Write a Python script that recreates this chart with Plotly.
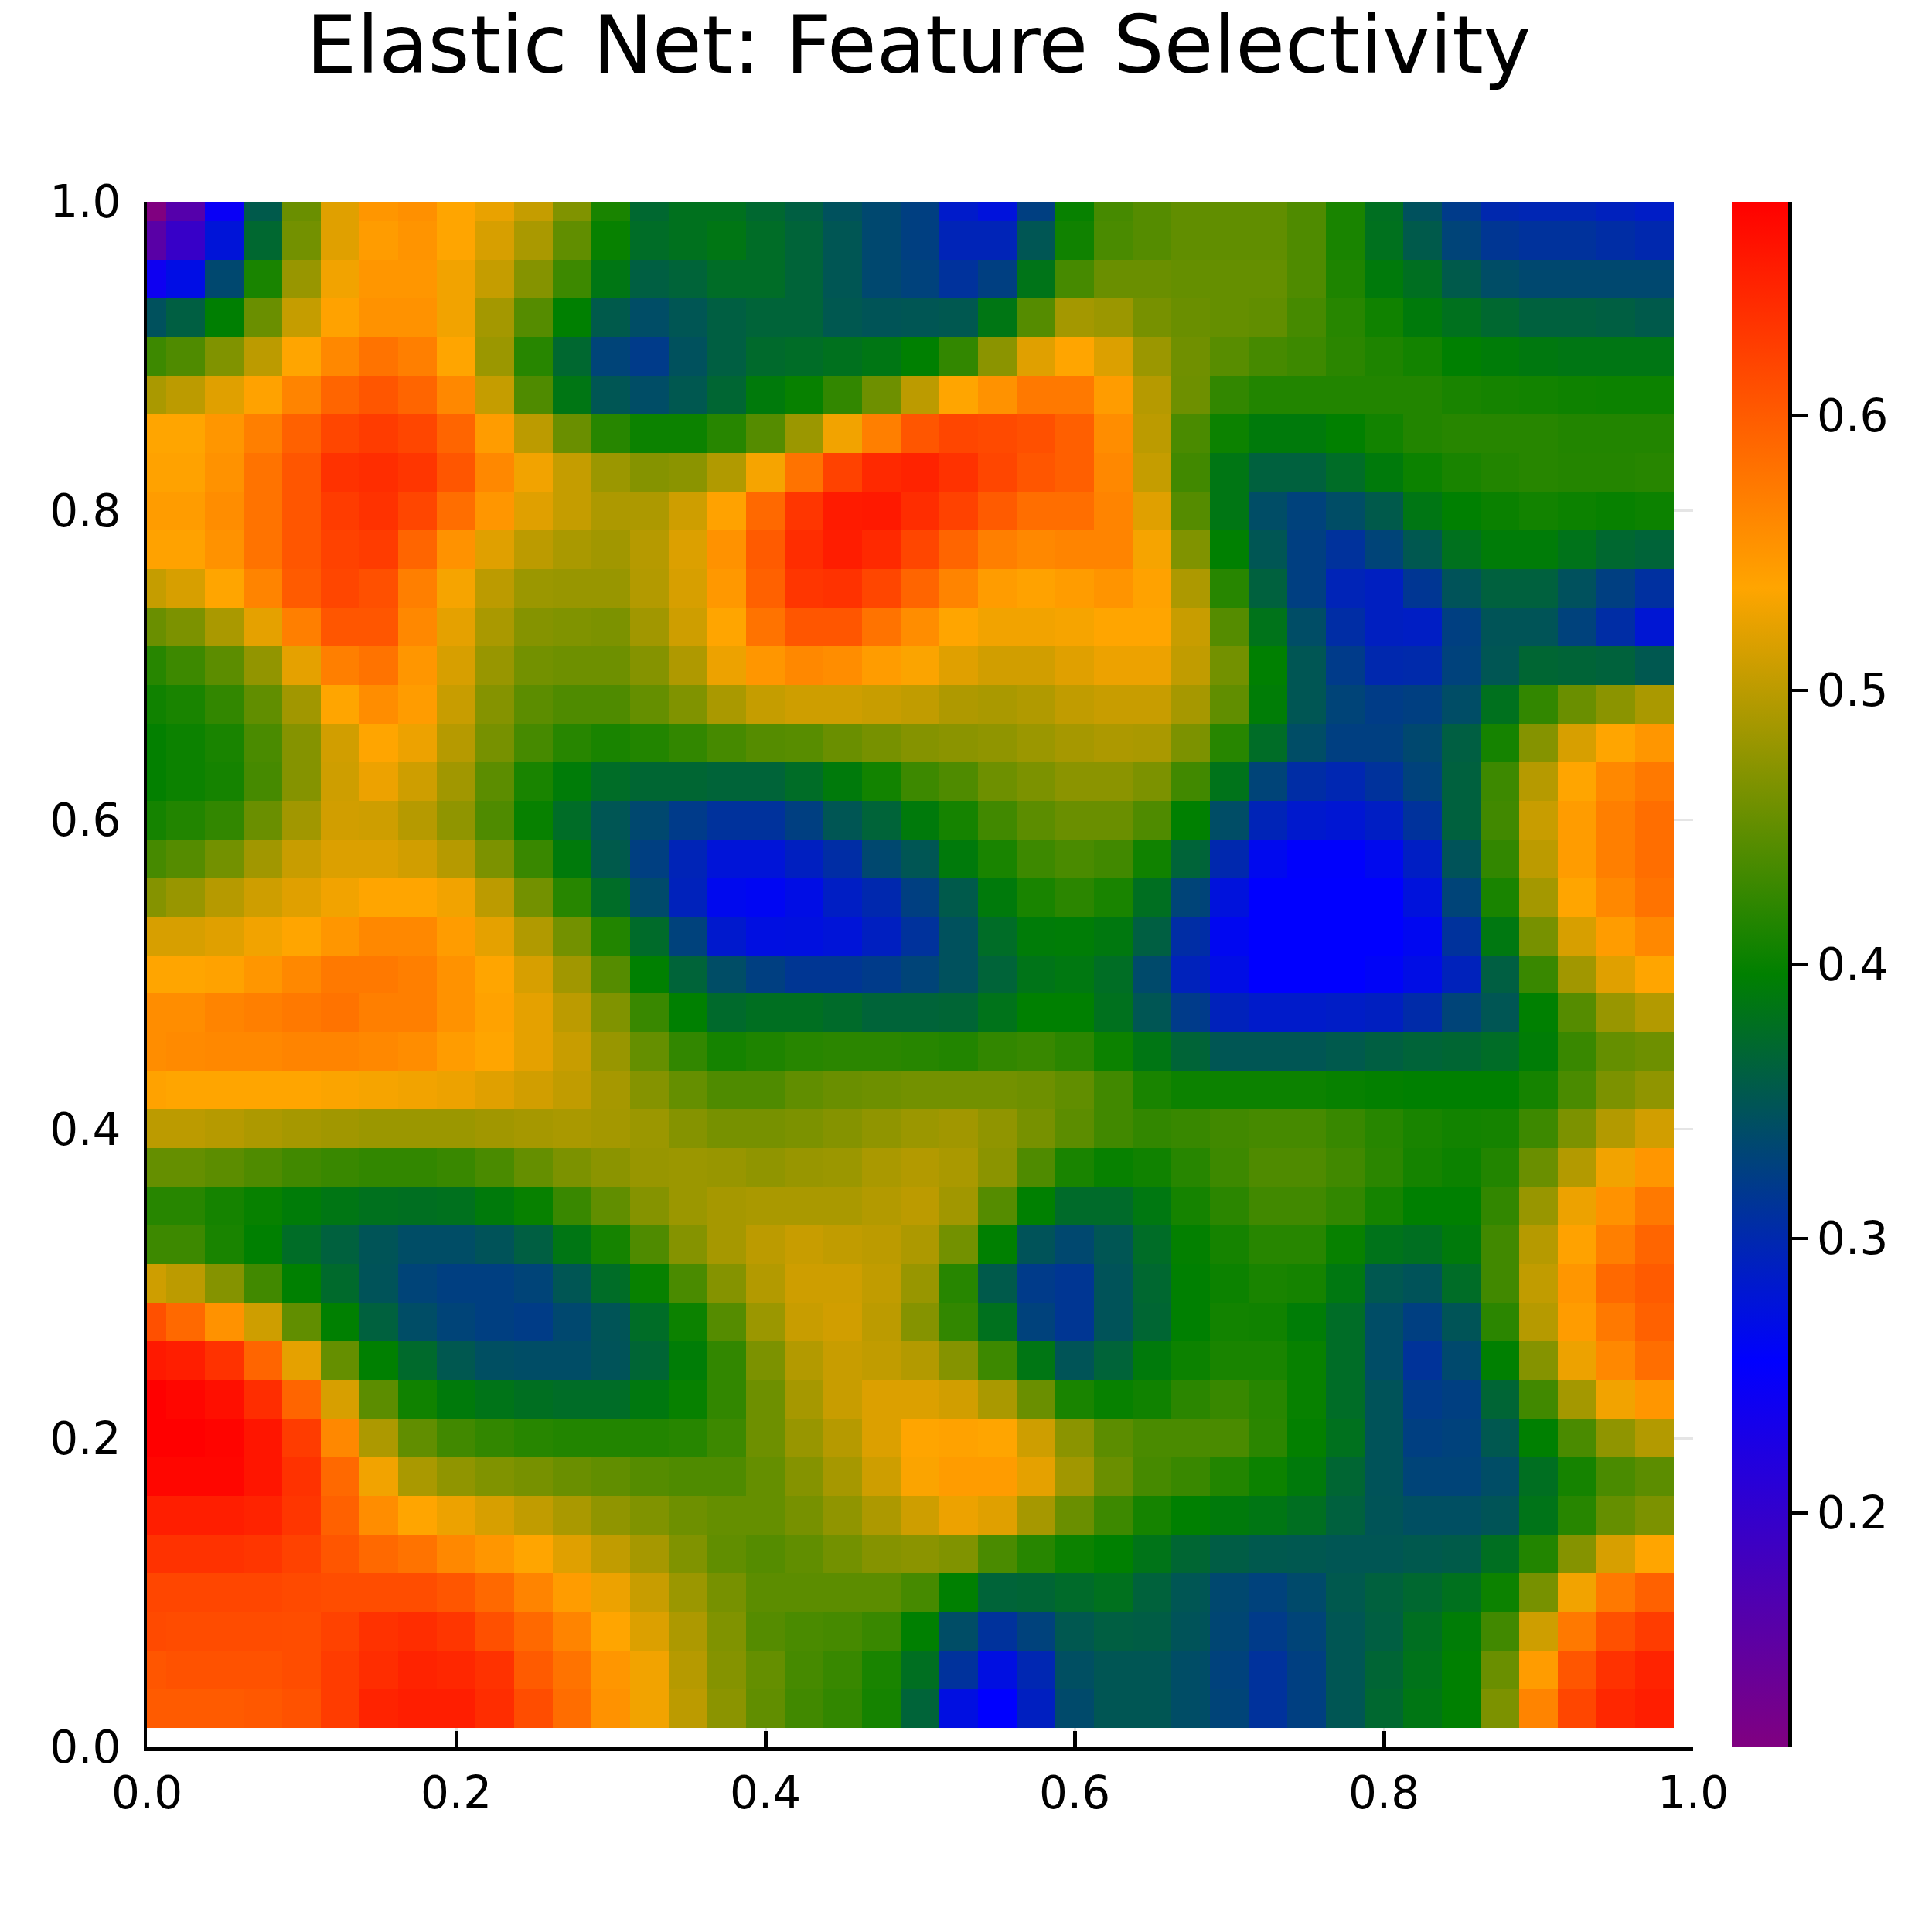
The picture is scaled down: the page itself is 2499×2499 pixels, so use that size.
import plotly.graph_objects as go

title = "Elastic Net: Feature Selectivity"
x_cells = [i / 40 for i in range(40)]
y_cells = [1 - i / 40 for i in range(40)]
axis_ticks = [0, 0.2, 0.4, 0.6, 0.8, 1.0]
axis_labels = ["0.0", "0.2", "0.4", "0.6", "0.8", "1.0"]
bar_ticks = [0.2, 0.3, 0.4, 0.5, 0.6]
bar_labels = ["0.2", "0.3", "0.4", "0.5", "0.6"]
z_low, z_high = 0.1146, 0.678
palette = ["#800080", "#0000ff", "#008000", "#ffa500", "#ff0000"]

rows = [
[.115,.162,.245,.355,.455,.520,.550,.555,.537,.525,.505,.467,.410,.370,.380,.380,.370,.360,.345,.335,.325,.285,.275,.325,.400,.435,.443,.450,.450,.450,.440,.410,.378,.345,.320,.300,.297,.297,.292,.287],
[.157,.195,.277,.370,.460,.520,.545,.552,.537,.515,.490,.450,.400,.375,.380,.385,.375,.365,.350,.335,.325,.295,.295,.350,.405,.437,.443,.450,.450,.450,.440,.410,.380,.355,.330,.315,.310,.310,.305,.300],
[.240,.270,.335,.410,.480,.530,.550,.550,.530,.505,.470,.430,.385,.360,.365,.375,.375,.365,.350,.335,.328,.310,.325,.383,.435,.455,.455,.452,.452,.452,.440,.413,.390,.378,.355,.340,.335,.335,.335,.335],
[.345,.360,.395,.455,.505,.540,.553,.553,.530,.487,.443,.396,.355,.340,.350,.360,.365,.365,.352,.348,.350,.352,.385,.443,.487,.482,.462,.455,.452,.450,.435,.418,.405,.390,.380,.370,.362,.362,.360,.355],
[.430,.440,.467,.500,.537,.562,.580,.570,.537,.482,.418,.370,.330,.320,.345,.360,.372,.375,.380,.385,.396,.424,.473,.520,.537,.518,.482,.458,.445,.435,.430,.420,.413,.407,.396,.392,.388,.385,.385,.385],
[.490,.500,.520,.540,.565,.592,.605,.592,.562,.505,.440,.385,.350,.340,.352,.368,.390,.400,.424,.457,.500,.537,.553,.575,.575,.545,.497,.457,.424,.415,.415,.415,.415,.415,.410,.408,.406,.404,.403,.403],
[.537,.537,.550,.570,.595,.618,.627,.618,.592,.545,.500,.455,.418,.403,.403,.418,.443,.482,.530,.570,.605,.618,.615,.610,.597,.558,.500,.437,.403,.390,.390,.397,.406,.415,.418,.418,.418,.415,.415,.415],
[.540,.540,.553,.580,.605,.635,.640,.632,.605,.562,.530,.505,.482,.470,.473,.494,.532,.580,.622,.643,.648,.635,.618,.605,.597,.562,.505,.432,.385,.362,.362,.375,.390,.403,.410,.415,.418,.416,.416,.418],
[.545,.545,.558,.580,.605,.627,.635,.618,.584,.550,.520,.505,.492,.492,.510,.540,.588,.632,.655,.657,.640,.622,.600,.584,.584,.565,.520,.443,.385,.340,.328,.340,.355,.385,.396,.402,.406,.403,.400,.403],
[.540,.540,.553,.580,.605,.622,.627,.592,.553,.520,.500,.490,.485,.497,.518,.553,.600,.640,.653,.643,.618,.592,.570,.562,.565,.565,.532,.467,.396,.350,.325,.310,.330,.352,.380,.392,.392,.382,.370,.365],
[.505,.515,.537,.565,.600,.618,.610,.570,.532,.500,.482,.480,.480,.495,.515,.548,.595,.632,.635,.618,.592,.565,.545,.540,.545,.552,.540,.492,.418,.362,.325,.295,.290,.315,.347,.362,.362,.345,.325,.308],
[.455,.465,.490,.523,.570,.605,.605,.562,.523,.490,.470,.467,.465,.485,.510,.537,.580,.605,.605,.580,.558,.537,.530,.530,.532,.537,.537,.507,.443,.382,.340,.305,.290,.288,.325,.348,.348,.328,.305,.280],
[.418,.430,.447,.477,.523,.570,.580,.550,.515,.480,.460,.457,.457,.470,.493,.527,.550,.562,.558,.545,.535,.520,.512,.512,.520,.527,.527,.503,.460,.396,.350,.320,.300,.302,.328,.350,.368,.366,.363,.352],
[.405,.410,.424,.450,.485,.537,.558,.545,.507,.470,.447,.440,.440,.452,.467,.490,.505,.510,.510,.507,.503,.493,.490,.494,.503,.507,.507,.488,.450,.393,.350,.330,.322,.325,.340,.380,.424,.455,.473,.490],
[.398,.403,.410,.437,.470,.512,.537,.527,.497,.462,.435,.418,.410,.415,.424,.435,.443,.445,.455,.462,.470,.473,.476,.482,.488,.492,.490,.465,.418,.375,.340,.325,.325,.335,.360,.408,.470,.515,.537,.550],
[.398,.403,.408,.435,.470,.510,.527,.510,.485,.447,.410,.392,.375,.368,.368,.365,.365,.375,.390,.406,.430,.440,.457,.465,.473,.473,.465,.432,.382,.330,.305,.298,.310,.328,.362,.430,.497,.537,.562,.575],
[.408,.415,.424,.455,.485,.512,.510,.497,.476,.440,.400,.375,.350,.335,.320,.310,.310,.325,.350,.365,.390,.408,.432,.447,.455,.455,.440,.396,.340,.295,.283,.280,.288,.310,.362,.432,.507,.545,.570,.584],
[.435,.443,.460,.485,.507,.518,.518,.512,.497,.465,.428,.390,.355,.325,.295,.277,.277,.290,.305,.335,.350,.390,.410,.430,.437,.432,.405,.365,.300,.265,.257,.257,.265,.288,.347,.424,.500,.545,.570,.584],
[.470,.480,.497,.510,.520,.530,.537,.537,.530,.500,.460,.418,.375,.337,.293,.265,.262,.270,.288,.300,.325,.355,.390,.410,.420,.410,.378,.330,.275,.255,.255,.255,.255,.275,.330,.410,.487,.537,.562,.580],
[.515,.515,.520,.530,.537,.550,.562,.562,.545,.523,.494,.460,.415,.373,.328,.283,.272,.273,.277,.290,.310,.345,.375,.392,.393,.388,.360,.305,.263,.255,.255,.255,.255,.263,.310,.387,.462,.515,.545,.562],
[.537,.537,.540,.550,.562,.575,.575,.570,.553,.537,.515,.485,.443,.396,.365,.340,.325,.315,.315,.320,.330,.345,.365,.383,.387,.376,.337,.293,.270,.255,.255,.255,.260,.270,.293,.360,.428,.485,.520,.537],
[.558,.558,.565,.570,.575,.580,.570,.570,.553,.540,.523,.500,.467,.428,.396,.372,.378,.378,.373,.365,.365,.367,.382,.396,.396,.380,.350,.320,.293,.285,.285,.287,.290,.303,.330,.350,.396,.443,.480,.495],
[.558,.560,.562,.562,.565,.565,.562,.558,.545,.537,.523,.507,.480,.452,.424,.408,.413,.418,.420,.420,.418,.415,.424,.427,.420,.403,.385,.366,.350,.350,.350,.354,.360,.365,.368,.375,.393,.428,.452,.457],
[.540,.537,.537,.537,.537,.535,.532,.530,.527,.520,.512,.503,.488,.470,.452,.440,.440,.450,.455,.457,.460,.460,.460,.457,.450,.432,.410,.403,.403,.403,.403,.400,.398,.396,.396,.396,.408,.437,.465,.476],
[.500,.500,.497,.492,.488,.485,.482,.482,.482,.485,.488,.490,.487,.482,.470,.462,.462,.465,.470,.476,.482,.485,.476,.462,.447,.432,.424,.427,.432,.435,.435,.427,.418,.410,.406,.408,.430,.465,.495,.512],
[.452,.452,.447,.440,.432,.428,.424,.424,.428,.437,.452,.465,.473,.480,.482,.480,.476,.480,.482,.490,.495,.490,.473,.440,.410,.400,.405,.418,.430,.440,.440,.432,.420,.408,.403,.415,.455,.495,.530,.550],
[.418,.418,.408,.400,.392,.385,.380,.378,.380,.390,.400,.428,.450,.470,.482,.488,.490,.490,.490,.495,.500,.485,.443,.396,.373,.373,.387,.408,.420,.432,.432,.424,.408,.396,.396,.424,.480,.527,.553,.575],
[.430,.430,.410,.396,.375,.362,.348,.340,.340,.347,.360,.385,.408,.440,.470,.488,.500,.507,.503,.500,.492,.460,.396,.347,.335,.350,.375,.398,.408,.418,.418,.400,.382,.378,.390,.432,.497,.540,.570,.592],
[.510,.500,.470,.432,.396,.372,.347,.330,.325,.325,.330,.350,.375,.400,.437,.470,.495,.510,.510,.503,.480,.418,.355,.320,.315,.347,.370,.396,.403,.410,.408,.387,.352,.347,.375,.432,.503,.550,.588,.600],
[.610,.588,.553,.510,.450,.396,.362,.340,.330,.325,.322,.335,.348,.375,.403,.443,.482,.507,.512,.500,.470,.424,.380,.328,.315,.347,.368,.396,.406,.405,.393,.375,.340,.325,.348,.420,.497,.545,.575,.595],
[.657,.652,.635,.592,.523,.452,.396,.372,.352,.342,.340,.340,.347,.367,.393,.424,.465,.495,.507,.503,.495,.470,.430,.385,.348,.365,.390,.403,.410,.410,.400,.375,.340,.312,.336,.396,.470,.527,.562,.584],
[.678,.673,.665,.640,.592,.515,.447,.405,.390,.383,.378,.375,.375,.388,.400,.424,.457,.488,.507,.518,.518,.512,.490,.455,.410,.400,.405,.420,.427,.418,.400,.375,.347,.320,.325,.367,.432,.487,.530,.550],
[.678,.678,.675,.660,.627,.562,.492,.450,.432,.424,.418,.415,.415,.415,.418,.430,.457,.480,.497,.518,.537,.540,.537,.510,.473,.447,.437,.437,.437,.420,.398,.380,.347,.325,.328,.352,.396,.437,.476,.495],
[.673,.673,.673,.660,.635,.588,.530,.490,.476,.467,.462,.455,.450,.443,.440,.440,.452,.470,.488,.510,.535,.545,.545,.523,.485,.455,.435,.428,.415,.403,.390,.368,.347,.330,.330,.340,.378,.408,.437,.447],
[.652,.652,.652,.648,.632,.595,.558,.537,.527,.515,.503,.490,.476,.467,.457,.452,.452,.462,.476,.492,.510,.527,.520,.488,.455,.430,.408,.396,.390,.385,.378,.362,.348,.342,.342,.348,.383,.418,.452,.465],
[.635,.635,.635,.632,.622,.605,.588,.580,.562,.550,.537,.520,.503,.488,.467,.450,.443,.450,.460,.470,.473,.467,.437,.418,.403,.396,.383,.368,.358,.353,.352,.350,.350,.353,.356,.378,.415,.470,.515,.537],
[.618,.618,.618,.618,.615,.612,.612,.612,.605,.588,.565,.545,.527,.507,.482,.462,.447,.447,.447,.447,.435,.396,.365,.367,.373,.380,.363,.350,.335,.328,.337,.353,.362,.370,.380,.403,.462,.530,.575,.595],
[.615,.613,.613,.613,.612,.622,.635,.640,.632,.610,.588,.565,.537,.518,.492,.467,.443,.437,.435,.428,.396,.340,.310,.328,.352,.360,.358,.347,.333,.320,.330,.350,.360,.378,.393,.432,.510,.575,.610,.627],
[.605,.608,.608,.608,.612,.627,.640,.648,.645,.635,.600,.580,.550,.530,.497,.470,.452,.435,.427,.410,.378,.310,.272,.298,.342,.350,.350,.340,.328,.310,.325,.350,.367,.382,.396,.455,.545,.605,.635,.648],
[.600,.600,.600,.603,.608,.627,.648,.652,.652,.640,.612,.585,.553,.530,.500,.473,.450,.432,.424,.408,.365,.272,.255,.290,.337,.350,.350,.340,.330,.310,.325,.350,.370,.385,.396,.465,.565,.618,.645,.652],
]

scale = [[i / 4, c] for i, c in enumerate(palette)]
fig = go.Figure(go.Heatmap(
    x=x_cells, y=y_cells, z=rows, zmin=z_low, zmax=z_high, colorscale=scale,
    colorbar=dict(
        x=1.025, xanchor="left", xpad=0, y=0, yanchor="bottom", ypad=0,
        len=1, lenmode="fraction", thickness=73, thicknessmode="pixels",
        outlinewidth=0, tickmode="array", tickvals=bar_ticks, ticktext=bar_labels,
        ticks="outside", ticklen=26, tickwidth=4, tickcolor="black",
        tickfont=dict(family="DejaVu Sans", size=58, color="black"),
    ),
))
axis = dict(
    range=[0, 1], tickmode="array", tickvals=axis_ticks, ticktext=axis_labels,
    ticks="inside", ticklen=21, tickwidth=5, tickcolor="black", layer="below traces",
    showline=True, linecolor="black", mirror=False,
    showgrid=True, gridcolor="rgba(0,0,0,0.1)", gridwidth=3, zeroline=False,
    tickfont=dict(family="DejaVu Sans", size=58, color="black"),
)
fig.update_layout(
    width=2499, height=2499, autosize=False,
    margin=dict(l=190, r=309, t=261, b=239, pad=0),
    paper_bgcolor="white", plot_bgcolor="white",
    title=dict(text=title, x=1188 / 2499, xanchor="center", y=1 - 94 / 2499, yanchor="bottom",
               yref="container", font=dict(family="DejaVu Sans", size=103.5, color="black"),
               pad=dict(t=0, b=0, l=0, r=0)),
    xaxis=dict(axis, ticklabelstandoff=4, linewidth=5),
    yaxis=dict(axis, ticklabelstandoff=18, linewidth=4),
    shapes=[dict(type="line", xref="paper", yref="paper", x0=1.06275, x1=1.06275, y0=0, y1=1,
                 line=dict(color="black", width=5))],
)
fig.write_html("out.html", config={"displayModeBar": False},
               post_script="document.body.style.margin='0';")
